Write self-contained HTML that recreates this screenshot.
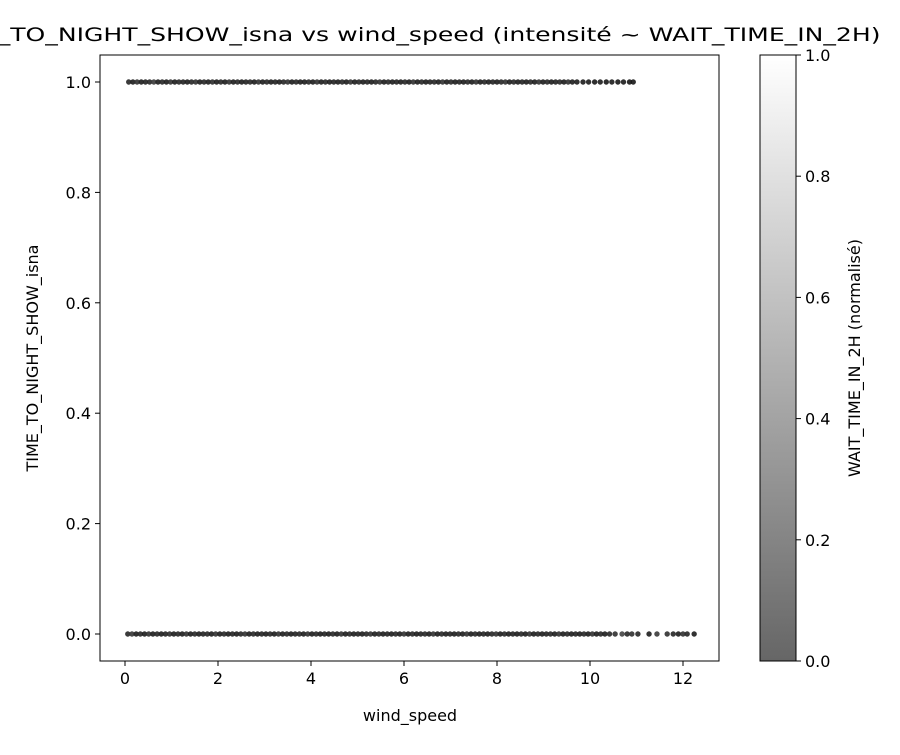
<!DOCTYPE html>
<html><head><meta charset="utf-8"><style>
body{margin:0;background:#fff;}
svg text{font-family:"DejaVu Sans","Liberation Sans",sans-serif;fill:#000;}
</style></head><body>
<svg id="chart" width="900" height="750" xmlns="http://www.w3.org/2000/svg">
<defs><linearGradient id="cbg" x1="0" y1="1" x2="0" y2="0"><stop offset="0" stop-color="#666"/><stop offset="1" stop-color="#fff"/></linearGradient></defs>
<rect x="0" y="0" width="900" height="750" fill="#fff"/>
<text x="409" y="41" font-size="19" text-anchor="middle" textLength="943" lengthAdjust="spacingAndGlyphs">TIME_TO_NIGHT_SHOW_isna vs wind_speed (intensité ~ WAIT_TIME_IN_2H)</text>
<g id="points"></g>
<rect x="100" y="55" width="619" height="606" fill="none" stroke="#000" stroke-width="1"/>
<g id="xaxis"></g>
<g id="yaxis"></g>
<text x="410" y="721" font-size="16" text-anchor="middle">wind_speed</text>
<text transform="translate(38,358) rotate(-90)" font-size="16" text-anchor="middle">TIME_TO_NIGHT_SHOW_isna</text>
<rect x="760" y="55" width="36" height="606" fill="url(#cbg)" stroke="#000" stroke-width="1"/>
<g id="cbaxis"></g>
<text transform="translate(860,358) rotate(-90)" font-size="16" text-anchor="middle">WAIT_TIME_IN_2H (normalisé)</text>
</svg>
<script>
const xTicks=[0,2,4,6,8,10,12];
const yTicks=[0.0,0.2,0.4,0.6,0.8,1.0];
const cbTicks=[0.0,0.2,0.4,0.6,0.8,1.0];
const windRow1=[0.08,0.17,0.26,0.35,0.44,0.53,0.62,0.71,0.8,0.89,0.98,1.07,1.16,1.25,1.34,1.43,1.52,1.61,1.7,1.79,1.88,1.97,2.06,2.15,2.24,2.33,2.42,2.51,2.6,2.69,2.78,2.87,2.96,3.05,3.14,3.23,3.32,3.41,3.5,3.59,3.68,3.77,3.86,3.95,4.04,4.13,4.22,4.31,4.4,4.49,4.58,4.67,4.76,4.85,4.94,5.03,5.12,5.21,5.3,5.39,5.48,5.57,5.66,5.75,5.84,5.93,6.02,6.11,6.2,6.29,6.38,6.47,6.56,6.65,6.74,6.83,6.92,7.01,7.1,7.19,7.28,7.37,7.46,7.55,7.64,7.73,7.82,7.91,8.0,8.09,8.18,8.27,8.36,8.45,8.54,8.63,8.72,8.81,8.9,8.99,9.08,9.17,9.26,9.35,9.44,9.53,9.62,9.72,9.85,9.97,10.1,10.22,10.35,10.47,10.6,10.72,10.85,10.93];
const shadeRow1=[0.2,0.1,0.3,0.1,0.15,0.2,0.4,0.1,0.2,0.1,0.3,0.1,0.2,0.15,0.1,0.2,0.3,0.1,0.2,0.1,0.25,0.1,0.2,0.1,0.3,0.1,0.2,0.1,0.15,0.2,0.1,0.3,0.1,0.2,0.1,0.15,0.1,0.2,0.3,0.1,0.2,0.1,0.1,0.2,0.1,0.3,0.1,0.2,0.1,0.15,0.1,0.2,0.1,0.3,0.1,0.2,0.1,0.15,0.1,0.2,0.3,0.1,0.2,0.1,0.15,0.1,0.2,0.1,0.3,0.1,0.2,0.1,0.15,0.2,0.1,0.3,0.1,0.2,0.1,0.15,0.1,0.2,0.1,0.3,0.1,0.2,0.1,0.15,0.1,0.2,0.3,0.1,0.2,0.1,0.15,0.1,0.2,0.1,0.3,0.1,0.2,0.1,0.15,0.2,0.1,0.3,0.1,0.1,0.1,0.1,0.05,0.1,0.05,0.1,0.05,0.1,0.05,0.05];
const windRow0=[0.06,0.15,0.24,0.33,0.42,0.51,0.6,0.69,0.78,0.87,0.96,1.05,1.14,1.23,1.32,1.41,1.5,1.59,1.68,1.77,1.86,1.95,2.04,2.13,2.22,2.31,2.4,2.49,2.58,2.67,2.76,2.85,2.94,3.03,3.12,3.21,3.3,3.39,3.48,3.57,3.66,3.75,3.84,3.93,4.02,4.11,4.2,4.29,4.38,4.47,4.56,4.65,4.74,4.83,4.92,5.01,5.1,5.19,5.28,5.37,5.46,5.55,5.64,5.73,5.82,5.91,6.0,6.09,6.18,6.27,6.36,6.45,6.54,6.63,6.72,6.81,6.9,6.99,7.08,7.17,7.26,7.35,7.44,7.53,7.62,7.71,7.8,7.89,7.98,8.07,8.16,8.25,8.34,8.43,8.52,8.61,8.7,8.79,8.88,8.97,9.06,9.15,9.24,9.33,9.42,9.51,9.6,9.69,9.78,9.87,9.96,10.05,10.14,10.23,10.32,10.42,10.54,10.69,10.8,10.9,11.03,11.27,11.44,11.66,11.79,11.9,12.0,12.09,12.24];
const shadeRow0=[0.2,0.35,0.1,0.2,0.1,0.3,0.1,0.2,0.1,0.15,0.25,0.1,0.2,0.1,0.3,0.1,0.2,0.1,0.15,0.2,0.1,0.3,0.1,0.2,0.1,0.15,0.1,0.2,0.3,0.1,0.2,0.1,0.15,0.1,0.2,0.1,0.3,0.1,0.2,0.1,0.15,0.2,0.1,0.3,0.1,0.2,0.1,0.15,0.1,0.2,0.1,0.3,0.1,0.2,0.1,0.15,0.1,0.2,0.3,0.1,0.2,0.1,0.15,0.1,0.2,0.1,0.3,0.1,0.2,0.1,0.15,0.2,0.1,0.3,0.1,0.2,0.1,0.15,0.1,0.2,0.1,0.3,0.1,0.2,0.1,0.15,0.1,0.2,0.3,0.1,0.2,0.1,0.15,0.1,0.2,0.1,0.3,0.1,0.2,0.1,0.15,0.2,0.1,0.3,0.1,0.2,0.1,0.15,0.1,0.2,0.1,0.3,0.1,0.2,0.1,0.2,0.3,0.5,0.2,0.3,0.2,0.1,0.4,0.3,0.2,0.1,0.3,0.2,0.1,0.2];
const NS="http://www.w3.org/2000/svg";
const xs=v=>125+v*46.5;
const ys=v=>634-v*552;
const cs=v=>661-v*606;
function mk(tag,attrs,parent){const e=document.createElementNS(NS,tag);for(const k in attrs)e.setAttribute(k,attrs[k]);parent.appendChild(e);return e;}
const pts=document.getElementById('points');
function shade(s){const g=Math.round(18+s*100);return `rgb(${g},${g},${g})`;}
windRow1.forEach((w,i)=>{const c=mk('circle',{cx:xs(w),cy:ys(1),r:2.7,fill:shade(shadeRow1[i]),'fill-opacity':0.9},pts);

});
windRow0.forEach((w,i)=>{const c=mk('circle',{cx:xs(w),cy:ys(0),r:2.7,fill:shade(shadeRow0[i]),'fill-opacity':0.9},pts);

});
const xa=document.getElementById('xaxis');
xTicks.forEach(t=>{const l=mk('line',{x1:xs(t),x2:xs(t),y1:661,y2:666,stroke:'#000'},xa);


const tx=mk('text',{x:xs(t),y:684,'font-size':16,'text-anchor':'middle'},xa);tx.textContent=t;

});
const ya=document.getElementById('yaxis');
yTicks.forEach(t=>{const l=mk('line',{x1:95,x2:100,y1:ys(t),y2:ys(t),stroke:'#000'},ya);


const tx=mk('text',{x:91,y:ys(t)+6,'font-size':16,'text-anchor':'end'},ya);tx.textContent=t.toFixed(1);

});
const ca=document.getElementById('cbaxis');
cbTicks.forEach(t=>{const l=mk('line',{x1:796,x2:801,y1:cs(t),y2:cs(t),stroke:'#000'},ca);


const tx=mk('text',{x:805,y:cs(t)+6,'font-size':16},ca);tx.textContent=t.toFixed(1);

});
</script>
</body></html>
